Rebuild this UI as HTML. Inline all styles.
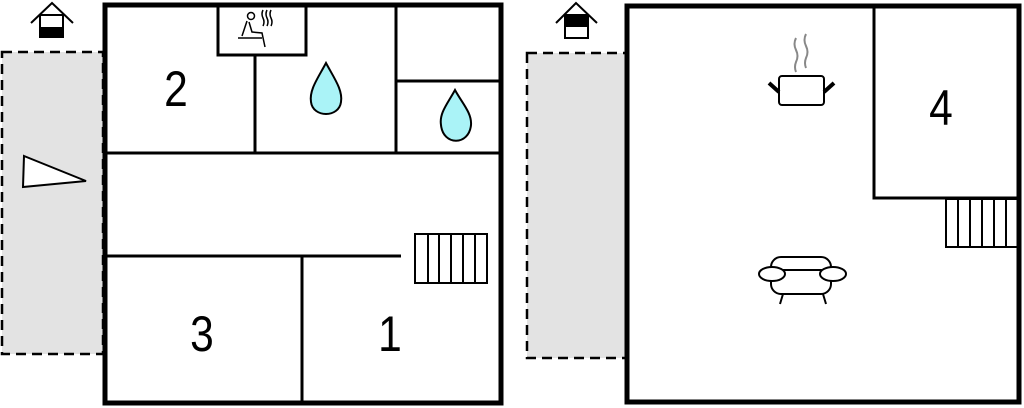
<!DOCTYPE html>
<html><head><style>html,body{margin:0;padding:0;background:#fff}svg{display:block}</style></head><body>
<svg width="1024" height="408" viewBox="0 0 1024 408" xmlns="http://www.w3.org/2000/svg" font-family="Liberation Sans, sans-serif">
<!-- LEFT -->
<rect x="2" y="52" width="101" height="302" fill="#e3e3e3" stroke="#000" stroke-width="2.5" stroke-dasharray="10,6"/>
<polygon points="24,156 86,181 23,187" fill="#fff" stroke="#000" stroke-width="2"/>
<g stroke="#000" stroke-width="2" fill="none">
<polyline points="31,23 52,3 73,23"/>
<rect x="40" y="15" width="23" height="22" fill="#fff"/>
</g>
<rect x="40" y="27" width="23" height="10" fill="#000"/>
<rect x="105" y="5" width="396" height="398" fill="#fff" stroke="#000" stroke-width="5"/>
<g stroke="#000" stroke-width="3" fill="none">
<rect x="218" y="4" width="88" height="51"/>
<line x1="255" y1="55" x2="255" y2="153"/>
<line x1="396" y1="4" x2="396" y2="153"/>
<line x1="396" y1="81" x2="501" y2="81"/>
<line x1="105" y1="153" x2="501" y2="153"/>
<line x1="105" y1="256" x2="401" y2="256"/>
<line x1="302" y1="256" x2="302" y2="404"/>
</g>
<g stroke="#000" stroke-width="2" fill="none">
<rect x="415" y="234" width="72" height="49"/>
<line x1="428" y1="234" x2="428" y2="283"/><line x1="439" y1="234" x2="439" y2="283"/><line x1="451" y1="234" x2="451" y2="283"/><line x1="463" y1="234" x2="463" y2="283"/><line x1="475" y1="234" x2="475" y2="283"/>
</g>
<g stroke="#000" stroke-width="1.5" fill="none">
<circle cx="251" cy="16" r="3.5"/>
<path d="M247,21 L242,36 M249,22 L252,32 L262,33 L265,47 M238,38 L262,38"/>
<path d="M263,10 q-2,4 0,8 q2,4 0,8 M267,10 q-2,4 0,8 q2,4 0,8 M271,10 q-2,4 0,8 q2,4 0,8"/>
</g>
<path d="M326,63 C318,78 309,90 311,102 C313,118 339,118 341,102 C343,90 334,78 326,63 Z" fill="#aaf3f7" stroke="#000" stroke-width="2"/>
<path d="M455,90 C448,103 439,113 441,125 C443,146 469,146 471,125 C472,113 462,103 455,90 Z" fill="#aaf3f7" stroke="#000" stroke-width="2"/>
<!-- RIGHT -->
<rect x="527" y="53" width="100" height="305" fill="#e3e3e3" stroke="#000" stroke-width="2.5" stroke-dasharray="10,6"/>
<g stroke="#000" stroke-width="2" fill="none">
<polyline points="556,23 576,3 597,23"/>
<rect x="565" y="15" width="23" height="23" fill="#fff"/>
</g>
<rect x="565" y="15" width="23" height="12" fill="#000"/>
<rect x="627" y="6" width="392" height="396" fill="#fff" stroke="#000" stroke-width="5"/>
<polyline points="874,4 874,198 1019,198" stroke="#000" stroke-width="3" fill="none"/>
<g stroke="#000" stroke-width="2" fill="none">
<rect x="946" y="199" width="72" height="48"/>
<line x1="958" y1="199" x2="958" y2="247"/><line x1="970" y1="199" x2="970" y2="247"/><line x1="982" y1="199" x2="982" y2="247"/><line x1="994" y1="199" x2="994" y2="247"/><line x1="1006" y1="199" x2="1006" y2="247"/>
</g>
<g stroke="#888" stroke-width="2" fill="none">
<path d="M796,38 q-3,6 0,12 q3,6 0,12 q-2,5 0,10 M806,34 q-3,6 0,12 q3,6 0,12 q-2,5 0,10"/>
</g>
<g stroke="#000" fill="none">
<rect x="779" y="76" width="45" height="29" rx="3" stroke-width="2"/>
<line x1="769" y1="83" x2="779" y2="92" stroke-width="4"/>
<line x1="834" y1="83" x2="824" y2="92" stroke-width="4"/>
</g>
<g stroke="#000" stroke-width="2" fill="#fff">
<rect x="771" y="257" width="60" height="21" rx="10"/>
<rect x="771" y="270" width="60" height="24" rx="10"/>
<ellipse cx="772" cy="274" rx="13" ry="7"/>
<ellipse cx="833" cy="274" rx="13" ry="7"/>
<line x1="783" y1="294" x2="780" y2="304"/>
<line x1="823" y1="294" x2="826" y2="304"/>
</g>
<g font-size="50">
<text transform="translate(176,106) scale(0.85,1)" text-anchor="middle">2</text>
<text transform="translate(202,351) scale(0.85,1)" text-anchor="middle">3</text>
<text transform="translate(390,351) scale(0.85,1)" text-anchor="middle">1</text>
<text transform="translate(941,125) scale(0.85,1)" text-anchor="middle">4</text>
</g>
</svg>
</body></html>
